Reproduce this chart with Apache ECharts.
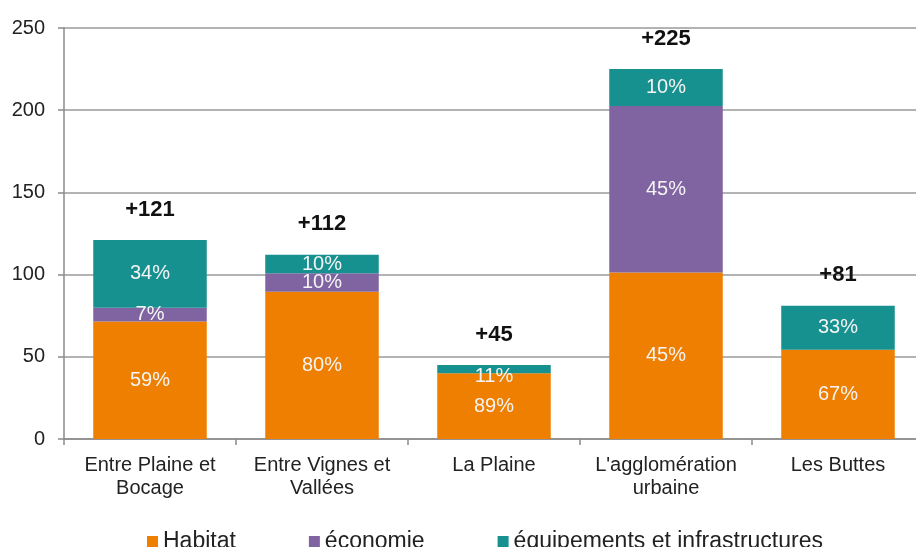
<!DOCTYPE html>
<html>
<head>
<meta charset="utf-8">
<script src="https://cdn.jsdelivr.net/npm/echarts@6/dist/echarts.min.js"></script>
<style>
  html, body { margin: 0; padding: 0; background: #fff; overflow: hidden; }
  /* the plot runs a little past the right edge of the window */
  #chart { width: 924px; height: 547px; }
</style>
</head>
<body>
<div id="chart"></div>
<script>
// Secteurs et surfaces consommées par type de destination
const categories = ['Entre Plaine et\nBocage', 'Entre Vignes et\nVallées', 'La Plaine', "L'agglomération\nurbaine", 'Les Buttes'];
const habitat = [71.4, 89.6, 40, 101.25, 54.3];
const economie = [8.5, 11.2, 0, 101.25, 0];
const equipements = [41.1, 11.2, 5, 22.5, 26.7];
const seriesNames = ['Habitat', 'économie', 'équipements et infrastructures'];
const yTicks = { min: 0, max: 250, interval: 50 };

const totals = categories.map((_, i) => habitat[i] + economie[i] + equipements[i]);

const FONT = '"Liberation Sans", Arial, sans-serif';

function pctLabel(p) {
  if (!p.value) return '';
  return Math.round(p.value / totals[p.dataIndex] * 100) + '%';
}

// very thin segments get their label pushed just below them, onto the bar
function segmentData(values) {
  return values.map(v => v > 0 && v < 6
    ? { value: v, label: { offset: [0, 7] } }
    : v);
}

function stackSeries(name, data, color) {
  return {
    name: name,
    type: 'bar',
    stack: 'total',
    data: segmentData(data),
    barCategoryGap: '34%',
    itemStyle: { color: color },
    label: {
      show: true,
      position: 'inside',
      formatter: pctLabel,
      color: '#f4f4f4',
      fontFamily: FONT,
      fontSize: 20
    }
  };
}

const chart = echarts.init(document.getElementById('chart'), null, { renderer: 'canvas' });

chart.setOption({
  animation: false,
  backgroundColor: '#ffffff',
  grid: { left: 64, top: 28, right: 0, bottom: 108, containLabel: false },
  legend: {
    data: seriesNames,
    left: 142,
    top: 525,
    icon: 'rect',
    itemWidth: 11,
    itemHeight: 11,
    itemGap: 73,
    textStyle: { fontFamily: FONT, fontSize: 23, color: '#222' }
  },
  xAxis: {
    type: 'category',
    data: categories,
    axisLine: { lineStyle: { color: '#8a8a8a', width: 1.5 } },
    axisTick: { show: true, length: 6, lineStyle: { color: '#8a8a8a', width: 1.5 } },
    axisLabel: {
      interval: 0,
      margin: 15,
      fontFamily: FONT,
      fontSize: 20,
      lineHeight: 23,
      color: '#222'
    }
  },
  yAxis: {
    type: 'value',
    min: yTicks.min,
    max: yTicks.max,
    interval: yTicks.interval,
    axisLine: { show: true, lineStyle: { color: '#8a8a8a', width: 1.5 } },
    axisTick: { show: true, length: 6, lineStyle: { color: '#8a8a8a', width: 1.5 } },
    splitLine: { lineStyle: { color: '#9a9a9a', width: 1.5 } },
    axisLabel: {
      margin: 19,
      fontFamily: FONT,
      fontSize: 20,
      color: '#222'
    }
  },
  series: [
    stackSeries(seriesNames[0], habitat, '#EE7F00'),
    stackSeries(seriesNames[1], economie, '#8064A2'),
    stackSeries(seriesNames[2], equipements, '#17918F'),
    {
      name: 'total',
      type: 'scatter',
      data: totals,
      symbolSize: 1,
      itemStyle: { color: 'rgba(0,0,0,0)' },
      silent: true,
      z: 5,
      label: {
        show: true,
        position: 'top',
        distance: 19,
        formatter: p => '+' + Math.round(p.value),
        fontFamily: FONT,
        fontWeight: 'bold',
        fontSize: 22,
        color: '#111',
        opacity: 1
      }
    }
  ]
});
</script>
</body>
</html>
